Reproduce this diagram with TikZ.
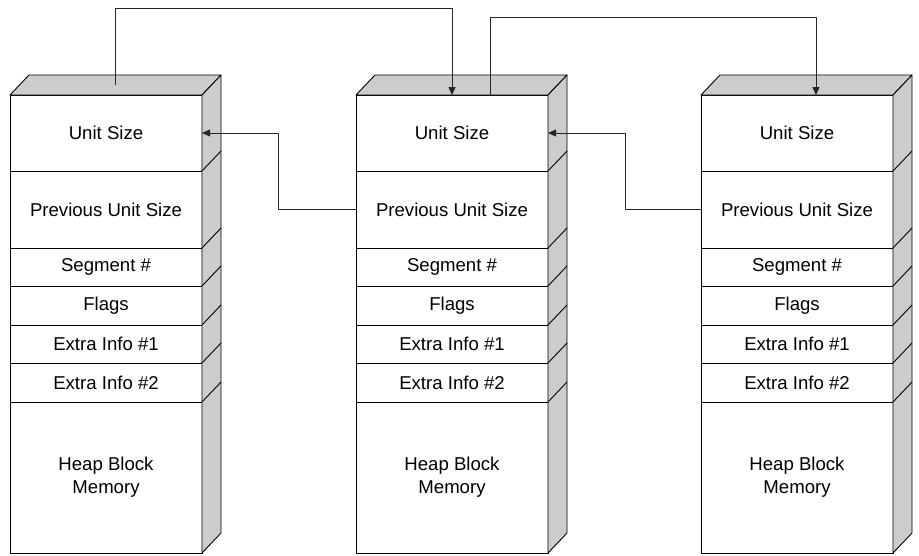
\documentclass[tikz,border=0pt]{standalone}
\usepackage{fontspec}
\setmainfont{Liberation Sans}
\usetikzlibrary{positioning,arrows.meta}
\definecolor{boxgray}{RGB}{204,204,204}
\begin{document}
\begin{tikzpicture}[x=1pt, y=-1pt, line join=round, >={Triangle[length=8pt,width=7pt]},
	font=\fontsize{18.6}{23}\selectfont,
	cell/.style={draw, line width=0.9pt, fill=white, minimum width=192pt, inner sep=0pt, outer sep=0pt, align=center},
	side/.style={draw, line width=0.9pt, fill=boxgray},
	link/.style={->, line width=0.8pt, black!85}]
		\useasboundingbox (0,0) rectangle (919,555);
		\def\dx{19} \def\dy{20} % do sau cua hop
		\foreach \i/\bx in {1/10, 2/356, 3/701}{
			\node[cell, minimum height=76pt, anchor=north west] (us\i) at (\bx,95) {Unit Size};
			\node[cell, minimum height=77pt, below=0pt of us\i] (pus\i) {Previous Unit Size};
			\node[cell, minimum height=38pt, below=0pt of pus\i] (seg\i) {Segment \#};
			\node[cell, minimum height=39pt, below=0pt of seg\i] (flg\i) {Flags};
			\node[cell, minimum height=38pt, below=0pt of flg\i] (exa\i) {Extra Info \#1};
			\node[cell, minimum height=39pt, below=0pt of exa\i] (exb\i) {Extra Info \#2};
			\node[cell, minimum height=151pt, below=0pt of exb\i] (hbm\i) {Heap Block\\Memory};
			\filldraw[side] (us\i.north west) -- ++(\dx,-\dy) -- ++(192,0) -- (us\i.north east) -- cycle;
			\filldraw[side] (us\i.north east) -- ++(\dx,-\dy) -- ([shift={(\dx,-\dy)}]hbm\i.south east) -- (hbm\i.south east) -- cycle;
			\foreach \r in {us,pus,seg,flg,exa,exb}
				\draw[line width=0.9pt] (\r\i.south east) -- ++(\dx,-\dy);
		}
		\coordinate (tf1) at ([shift={(9.5,-10)}]us1.north);
		\coordinate (ts2) at ([xshift=38]us2.north);
		\coordinate (te3) at ([xshift=19]us3.north);
		\draw[link] (tf1) -- (tf1 |- 0,8) -| (us2.north);
		\draw[link] (ts2) -- (ts2 |- 0,17) -| (te3);
		\draw[link] (pus2.west) -- ++(-78,0) |- (us1.east);
		\draw[link] (pus3.west) -- ++(-76,0) |- (us2.east);
\end{tikzpicture}
\end{document}
